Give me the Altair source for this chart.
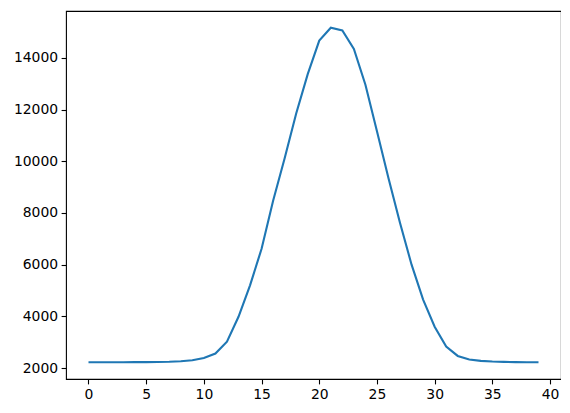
import altair as alt
import pandas as pd

x_values = list(range(40))
y_values = [2225, 2226, 2227, 2228, 2229, 2231, 2235, 2243, 2262, 2305,
            2390, 2565, 3020, 3985, 5200, 6615, 8470, 10115, 11850, 13370,
            14665, 15165, 15060, 14345, 12960, 11165, 9340, 7610, 6000, 4650,
            3600, 2830, 2470, 2330, 2280, 2255, 2240, 2232, 2228, 2225]
y_ticks = [2000, 4000, 6000, 8000, 10000, 12000, 14000]
x_ticks = [0, 5, 10, 15, 20, 25, 30, 35, 40]

df = pd.DataFrame({"x": x_values, "y": y_values})

axis_common = dict(
    title=None, grid=False, domain=False,
    labelFont="DejaVu Sans", labelFontSize=13.9, labelColor="black",
    tickColor="black", tickSize=4.9, tickWidth=1.1, labelPadding=3.5,
)

chart = alt.Chart(df).mark_line(color="#1f77b4", strokeWidth=2.1).encode(
    x=alt.X("x:Q", scale=alt.Scale(domain=[-1.95, 40.95], nice=False, zero=False),
            axis=alt.Axis(values=x_ticks, format="d", **axis_common)),
    y=alt.Y("y:Q", scale=alt.Scale(domain=[1578, 15812], nice=False, zero=False),
            axis=alt.Axis(values=y_ticks, format="d", **axis_common)),
).properties(
    width=495, height=368,
    autosize=alt.AutoSizeParams(type="none"),
    padding={"left": 58, "top": 3, "right": 0, "bottom": 30},
    background="white",
).configure_view(
    stroke="black", strokeWidth=1.1
)

chart.save("out.html", embed_options={"renderer": "svg", "actions": False})
